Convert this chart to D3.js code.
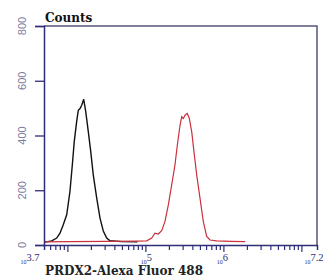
<!DOCTYPE html>
<html>
<head>
<meta charset="utf-8">
<script src="https://cdn.jsdelivr.net/npm/d3@7"></script>
<style>
  body { margin: 0; background: #fff; }
  svg { display: block; }
</style>
</head>
<body>
<svg id="chart" width="328" height="277"></svg>
<script>
// histogram traces, x as log10 of intensity, y as counts
const blackExp = [3.70, 3.75, 3.799, 3.863, 3.905, 3.947, 3.991, 4.033, 4.063, 4.088, 4.119, 4.140, 4.162, 4.183, 4.209, 4.235, 4.268, 4.299, 4.332, 4.376, 4.418, 4.460, 4.504, 4.546, 4.70, 4.90];
const blackCounts = [3, 5, 8, 18, 36, 67, 103, 189, 285, 371, 444, 485, 491, 503, 525, 480, 407, 335, 248, 164, 91, 44, 18, 8, 5, 4];

const redExp = [3.70, 4.00, 4.50, 4.90, 5.017, 5.081, 5.123, 5.165, 5.209, 5.251, 5.294, 5.337, 5.379, 5.409, 5.444, 5.465, 5.486, 5.508, 5.537, 5.563, 5.594, 5.623, 5.658, 5.700, 5.742, 5.786, 5.828, 5.914, 6.10, 6.28];
const redCounts = [4, 5, 6, 7, 8, 18, 36, 33, 45, 79, 139, 212, 285, 357, 430, 461, 455, 467, 473, 455, 406, 333, 248, 164, 79, 24, 11, 8, 6, 5];

const yTicks = [0, 200, 400, 600, 800];
const xLabelExp = ["3.7", "5", "6", "7.2"];
const yTitle = "Counts";
const xTitle = "PRDX2-Alexa Fluor 488";

const svg = d3.select("#chart");
const margin = { top: 26, right: 11, bottom: 32, left: 44 };
const width = 328, height = 277;

const xScale = d3.scaleLog()
  .domain([Math.pow(10, 3.7), Math.pow(10, 7.2)])
  .range([margin.left, width - margin.right]);

const yScale = d3.scaleLinear()
  .domain([0, 800])
  .range([height - margin.bottom, margin.top]);

const navy = "#2e2e78";

// frame top / right
svg.append("path")
  .attr("d", `M${margin.left},${margin.top}H${width - margin.right}V${height - margin.bottom}`)
  .attr("fill", "none")
  .attr("stroke", "#55557a")
  .attr("stroke-width", 1.5);

// traces
const line = d3.line()
  .x((d) => xScale(Math.pow(10, d[0])))
  .y((d) => yScale(d[1]) - 2);

svg.append("path")
  .attr("d", line(blackExp.map((e, i) => [e, blackCounts[i]])))
  .attr("fill", "none")
  .attr("stroke", "#111")
  .attr("stroke-width", 1.4);

svg.append("path")
  .attr("d", line(redExp.map((e, i) => [e, redCounts[i]])))
  .attr("fill", "none")
  .attr("stroke", "#c8323f")
  .attr("stroke-width", 1.2);

// y axis
const yAxis = d3.axisLeft(yScale)
  .tickValues(yTicks)
  .tickSize(9)
  .tickFormat("");
const gy = svg.append("g")
  .attr("transform", `translate(${margin.left}, 0)`)
  .call(yAxis);
gy.select(".domain").attr("stroke", navy).attr("stroke-width", 1.5);
gy.selectAll(".tick line").attr("stroke", navy).attr("stroke-width", 1.3);

svg.selectAll(".ylab")
  .data(yTicks)
  .join("text")
  .attr("class", "ylab")
  .attr("transform", (d) => `translate(26, ${yScale(d)}) rotate(-90)`)
  .attr("text-anchor", "middle")
  .attr("font-family", "Liberation Sans Narrow, Liberation Sans, sans-serif")
  .attr("font-size", 11)
  .attr("fill", "#7c7ca0")
  .text((d) => d);

// x axis with log minor ticks
const xAxis = d3.axisBottom(xScale)
  .tickValues(xScale.ticks().filter((d) => d >= Math.pow(10, 3.7)))
  .tickSize(5)
  .tickFormat("");
const gx = svg.append("g")
  .attr("transform", `translate(0, ${height - margin.bottom})`)
  .call(xAxis);
gx.select(".domain").attr("stroke", navy).attr("stroke-width", 1.5);
gx.selectAll(".tick line")
  .attr("stroke", navy)
  .attr("stroke-width", 1.2)
  .attr("y2", (d) => (Math.abs(Math.log10(d) % 1) < 1e-6 ? 7 : 5));

const labelShift = [-14, 1, -1, -3];
const xLab = svg.selectAll(".xlab")
  .data(xLabelExp)
  .join("text")
  .attr("class", "xlab")
  .attr("x", (d, i) => xScale(Math.pow(10, +d)) + labelShift[i])
  .attr("y", 264)
  .attr("text-anchor", "middle")
  .attr("font-family", "Liberation Serif, serif")
  .attr("fill", navy);
xLab.append("tspan")
  .attr("font-size", 6)
  .text("10");
xLab.append("tspan")
  .attr("font-size", 10.5)
  .attr("dy", -3)
  .text((d) => d);

// titles
svg.append("text")
  .attr("x", 45)
  .attr("y", 22)
  .attr("font-family", "DejaVu Serif, serif")
  .attr("font-weight", "bold")
  .attr("font-size", 12)
  .attr("fill", "#111")
  .text(yTitle);

svg.append("text")
  .attr("x", 45)
  .attr("y", 275)
  .attr("font-family", "DejaVu Serif, serif")
  .attr("font-weight", "bold")
  .attr("font-size", 12)
  .attr("fill", "#222")
  .text(xTitle);
</script>
</body>
</html>
